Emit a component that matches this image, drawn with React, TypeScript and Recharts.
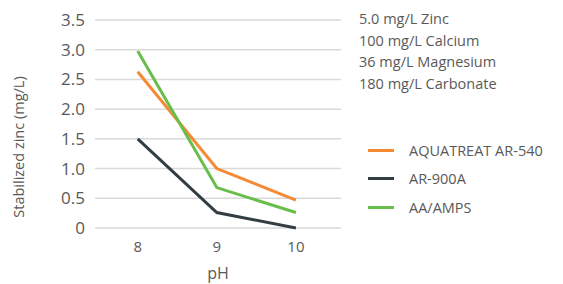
import { LineChart, Line, XAxis, YAxis, CartesianGrid } from 'recharts';

const phValues = [8, 9, 10];
const ar540 = [2.63, 1.0, 0.47];
const ar900a = [1.5, 0.26, 0.0];
const aaAmps = [2.98, 0.68, 0.26];
const yTicks = [0, 0.5, 1, 1.5, 2, 2.5, 3, 3.5];
const conditions = ['5.0 mg/L Zinc', '100 mg/L Calcium', '36 mg/L Magnesium', '180 mg/L Carbonate'];

const series = [
  { key: 'ar540', name: 'AQUATREAT AR-540', color: '#F58A35' },
  { key: 'ar900a', name: 'AR-900A', color: '#333E44' },
  { key: 'aaAmps', name: 'AA/AMPS', color: '#69BE4B' },
];

const data = phValues.map((ph, i) => ({
  ph,
  ar540: ar540[i],
  ar900a: ar900a[i],
  aaAmps: aaAmps[i],
}));

const FONT = '"Open Sans", sans-serif';
const TEXT = '#595959';

function fmtTick(v: number) {
  return v === 0 ? '0' : v.toFixed(1);
}

export default function App() {
  return (
    <div style={{ position: 'absolute', left: 0, top: 0, width: 563, height: 284, background: '#fff' }}>
      <LineChart width={563} height={284} data={data} margin={{ top: 20, right: 222, bottom: 0, left: 0 }}>
        <CartesianGrid vertical={false} stroke="#d9d9d9" strokeWidth={1.5} />
        <XAxis
          dataKey="ph"
          type="number"
          domain={[7.46, 10.57]}
          ticks={phValues}
          axisLine={false}
          tickLine={false}
          tickSize={0}
          tickMargin={13}
          height={56}
          tick={{ fill: TEXT, fontSize: 15, fontFamily: FONT }}
          label={{ value: 'pH', position: 'insideBottom', offset: 5, fill: TEXT, fontSize: 16, fontFamily: FONT }}
        />
        <YAxis
          domain={[0, 3.5]}
          ticks={yTicks}
          tickFormatter={fmtTick}
          axisLine={false}
          tickLine={false}
          tickSize={0}
          tickMargin={10}
          width={95}
          tick={{ fill: TEXT, fontSize: 17, fontFamily: FONT }}
          label={{
            content: () => (
              <text
                x={18}
                y={147}
                transform="rotate(-90 18 147)"
                textAnchor="middle"
                dominantBaseline="central"
                fill={TEXT}
                fontSize={14.5}
                fontFamily={FONT}
              >
                Stabilized zinc (mg/L)
              </text>
            ),
          }}
        />
        {series.map((s) => (
          <Line
            key={s.key}
            dataKey={s.key}
            name={s.name}
            stroke={s.color}
            strokeWidth={3}
            dot={false}
            activeDot={false}
            isAnimationActive={false}
          />
        ))}
      </LineChart>
      <div
        style={{
          position: 'absolute',
          left: 359,
          top: 8,
          fontFamily: FONT,
          color: TEXT,
          fontSize: 14.5,
          lineHeight: '21.7px',
        }}
      >
        {conditions.map((c) => (
          <div key={c}>{c}</div>
        ))}
      </div>
      <div style={{ position: 'absolute', left: 368, top: 136, fontFamily: FONT, color: TEXT, fontSize: 14.5 }}>
        {series.map((s) => (
          <div key={s.key} style={{ display: 'flex', alignItems: 'center', height: 28.5 }}>
            <div style={{ width: 26, height: 3, background: s.color, marginRight: 15 }} />
            <span>{s.name}</span>
          </div>
        ))}
      </div>
    </div>
  );
}
